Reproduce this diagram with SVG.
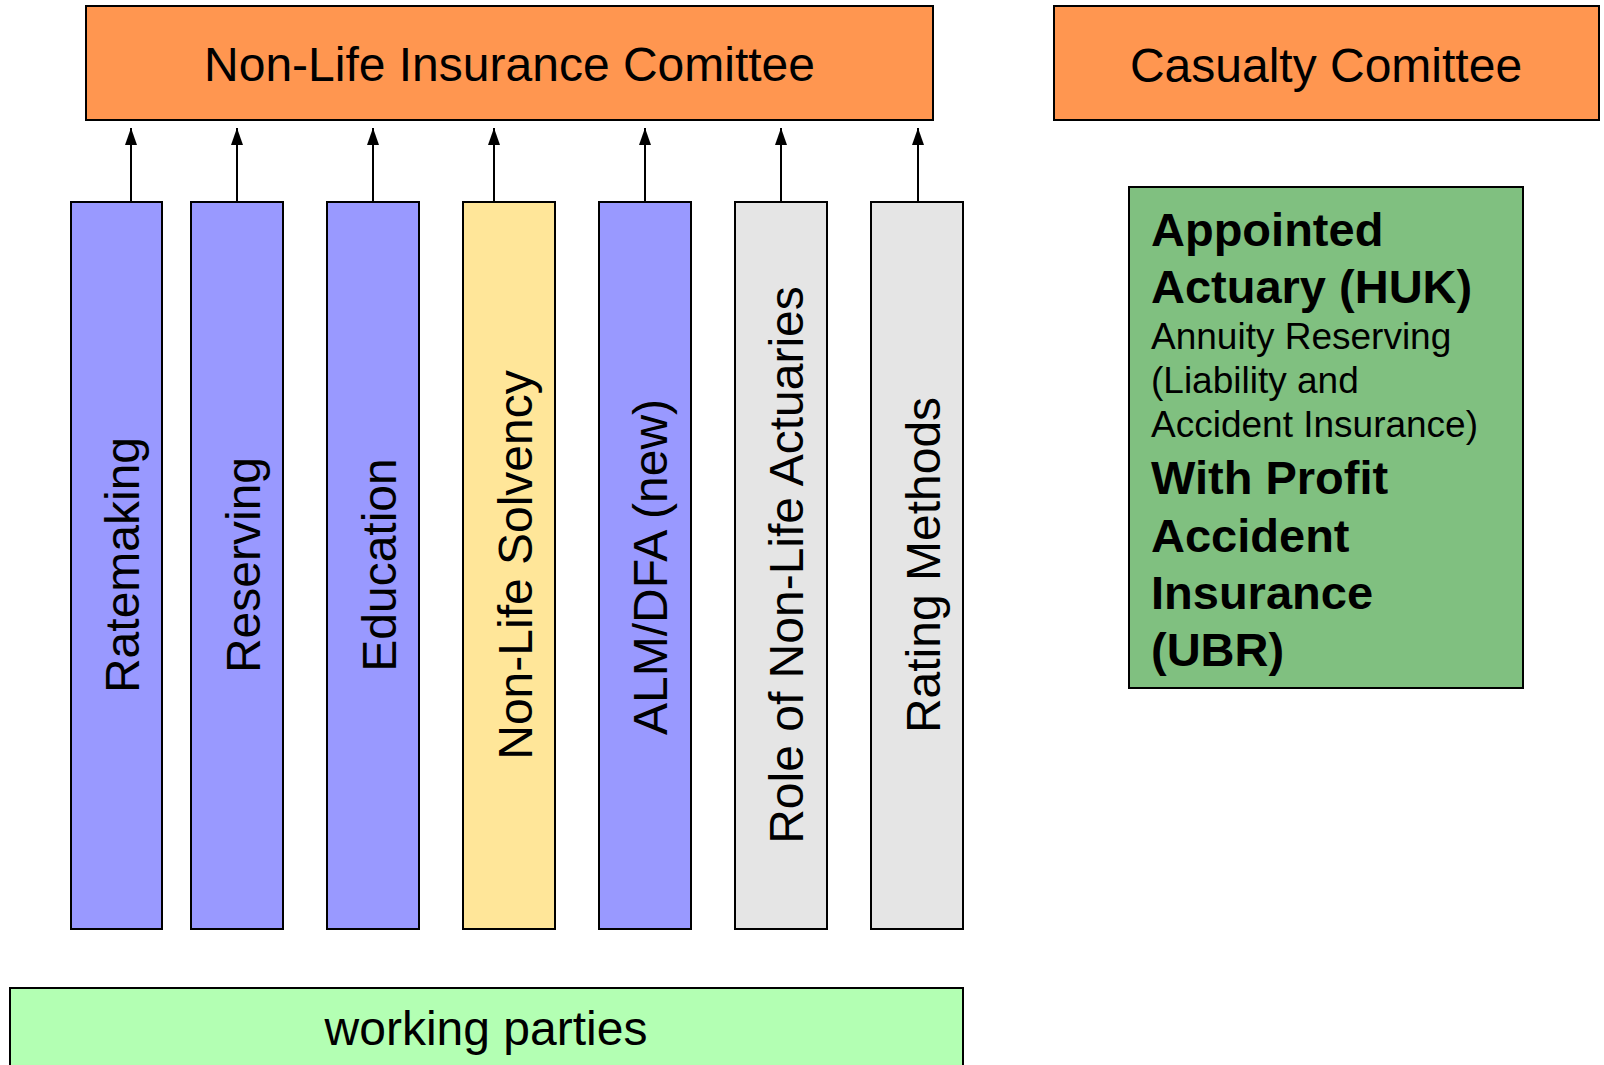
<svg xmlns="http://www.w3.org/2000/svg" width="1604" height="1065" viewBox="0 0 1604 1065">
<defs>
<marker id="ah" markerWidth="17" markerHeight="12" refX="17" refY="6" orient="auto" markerUnits="userSpaceOnUse" viewBox="0 0 17 12">
<path d="M0,0 L17,6 L0,12 Z" fill="#000"/>
</marker>
<style>
text{font-family:"Liberation Sans",Arial,sans-serif;fill:#000}
.box{stroke:#000;stroke-width:2}
.or{fill:#FF9650}
.bl{fill:#9999FF}
.ye{fill:#FFE699}
.gr{fill:#E5E5E5}
.lbl{font-size:48px;text-anchor:middle}
.b{font-size:47px;font-weight:bold}
.r{font-size:37px}
.con{stroke:#000;stroke-width:2;fill:none}
</style>
</defs>
<rect width="1604" height="1065" fill="#fff"/>
<g id="nonlife">
<rect class="box or" x="86" y="6" width="847" height="114"/>
<text class="lbl" x="509.5" y="81">Non-Life Insurance Comittee</text>
</g>
<g id="casualty">
<rect class="box or" x="1054" y="6" width="545" height="114"/>
<text class="lbl" x="1326" y="82">Casualty Comittee</text>
</g>
<g id="appointed">
<rect class="box" fill="#80C080" x="1129" y="187" width="394" height="501"/>
<text class="b" x="1151" y="246">Appointed</text>
<text class="b" x="1151" y="303">Actuary (HUK)</text>
<text class="r" x="1151" y="349">Annuity Reserving</text>
<text class="r" x="1151" y="393">(Liability and</text>
<text class="r" x="1151" y="437">Accident Insurance)</text>
<text class="b" x="1151" y="494">With Profit</text>
<text class="b" x="1151" y="552">Accident</text>
<text class="b" x="1151" y="609">Insurance</text>
<text class="b" x="1151" y="666">(UBR)</text>
</g>
<g id="ratemaking">
<rect class="box bl" x="71" y="202" width="91" height="727"/>
<text class="lbl" transform="translate(139,565) rotate(-90)">Ratemaking</text>
</g>
<g id="reserving">
<rect class="box bl" x="191" y="202" width="92" height="727"/>
<text class="lbl" transform="translate(260,565) rotate(-90)">Reserving</text>
</g>
<g id="education">
<rect class="box bl" x="327" y="202" width="92" height="727"/>
<text class="lbl" transform="translate(396,565) rotate(-90)">Education</text>
</g>
<g id="solvency">
<rect class="box ye" x="463" y="202" width="92" height="727"/>
<text class="lbl" transform="translate(532,565) rotate(-90)">Non-Life Solvency</text>
</g>
<g id="alm">
<rect class="box bl" x="599" y="202" width="92" height="727"/>
<text class="lbl" transform="translate(667,567) rotate(-90)">ALM/DFA (new)</text>
</g>
<g id="role">
<rect class="box gr" x="735" y="202" width="92" height="727"/>
<text class="lbl" transform="translate(803,565) rotate(-90)">Role of Non-Life Actuaries</text>
</g>
<g id="rating">
<rect class="box gr" x="871" y="202" width="92" height="727"/>
<text class="lbl" transform="translate(940,565) rotate(-90)">Rating Methods</text>
</g>
<g id="working">
<rect class="box" fill="#B3FFB3" x="10" y="988" width="953" height="90"/>
<text class="lbl" x="486" y="1045">working parties</text>
</g>
<g id="connectors">
<line class="con" x1="131" y1="202" x2="131" y2="128" marker-end="url(#ah)"/>
<line class="con" x1="237" y1="202" x2="237" y2="128" marker-end="url(#ah)"/>
<line class="con" x1="373" y1="202" x2="373" y2="128" marker-end="url(#ah)"/>
<line class="con" x1="494" y1="202" x2="494" y2="128" marker-end="url(#ah)"/>
<line class="con" x1="645" y1="202" x2="645" y2="128" marker-end="url(#ah)"/>
<line class="con" x1="781" y1="202" x2="781" y2="128" marker-end="url(#ah)"/>
<line class="con" x1="918" y1="202" x2="918" y2="128" marker-end="url(#ah)"/>
</g>
</svg>
